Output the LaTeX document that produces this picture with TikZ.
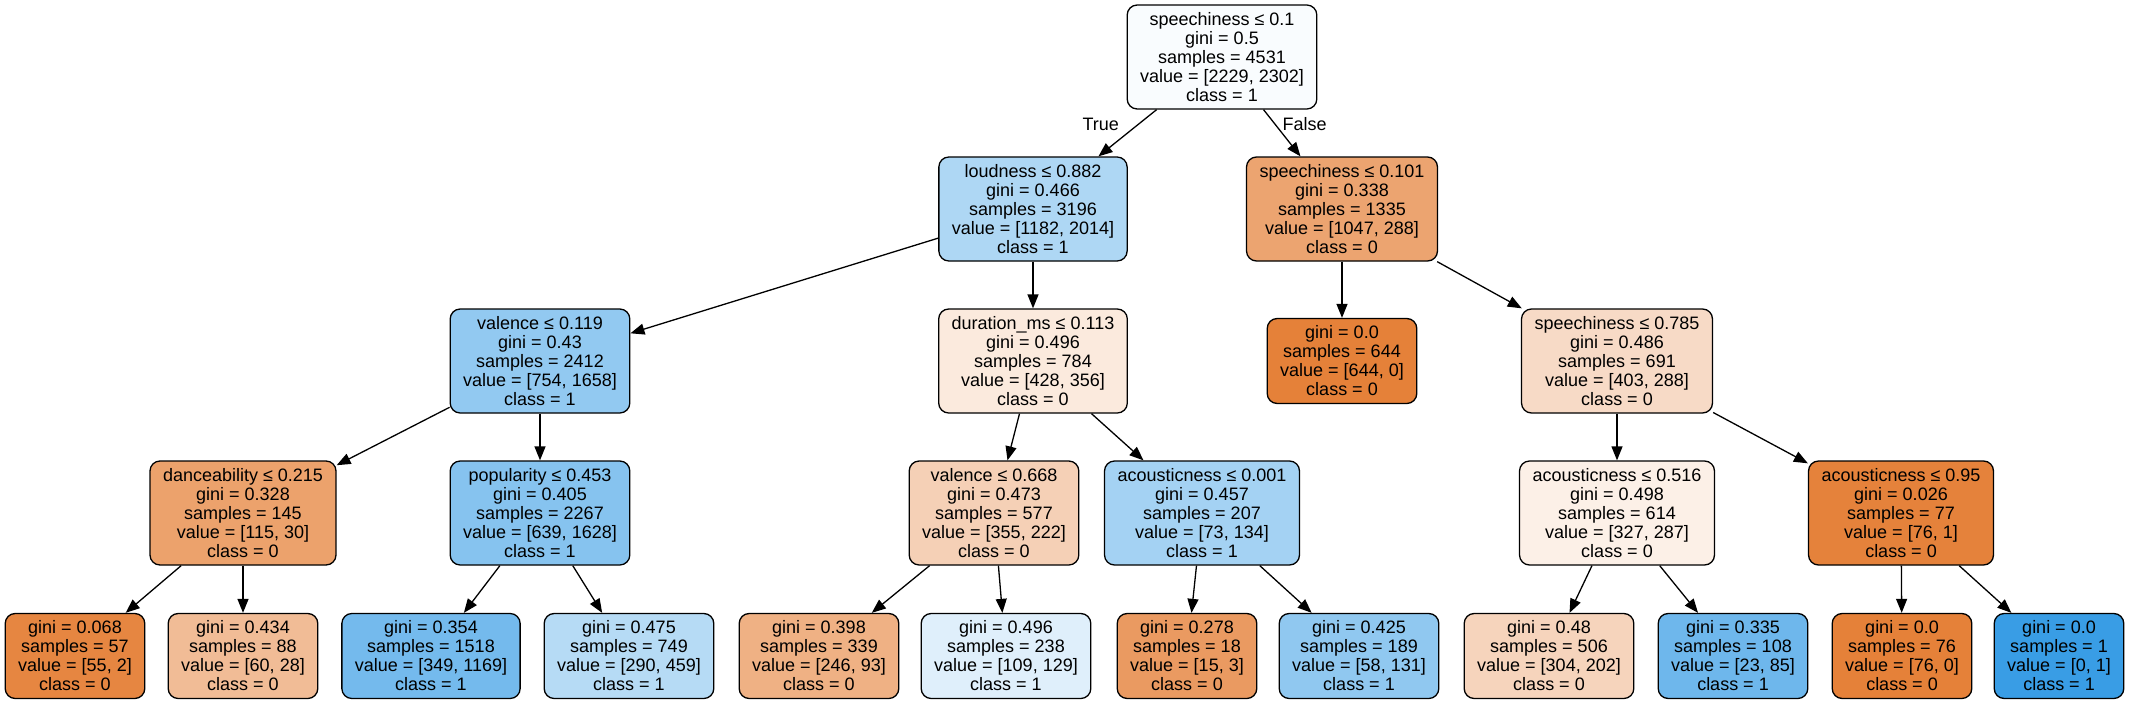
\documentclass[tikz,border=0pt]{standalone}
\usepackage{fontspec}
\setmainfont{Liberation Sans}
\usepackage{tikz}
\usetikzlibrary{positioning,arrows.meta}
\definecolor{colorzero}{RGB}{229,129, 57}
\definecolor{colorone} {RGB}{ 57,157,229}
\definecolor{colortext}{RGB}{  0,  0,  0}

\begin{document}
\begin{tikzpicture}[
    x=1pt, y=-1pt,
    font={\fontsize{18}{19}\selectfont},
    base/.style={draw=colortext,text=colortext,line width=1.3pt,rounded corners=10pt,inner xsep=13pt,inner ysep=4pt,align=center,rectangle},
    split/.style={base,minimum height=104pt},
    leaf/.style={base,minimum height=85pt},
    zero/.style={fill=colorzero!#1},
    one/.style={fill=colorone!#1},
    link/.style={line width=1.3pt,draw=colortext,-{Triangle[length=14pt,width=11pt]}},
    branch/.style={text=colortext,inner sep=0pt},
]
    \useasboundingbox (0,0) rectangle (2129,704);

    \node[split,one=3]   (root)     at (1222,57)  {speechiness ≤ 0.1\\gini = 0.5\\samples = 4531\\value = [2229, 2302]\\class = 1};

    \node[split,one=41]  (loudness) at (1033,209) {loudness ≤ 0.882\\gini = 0.466\\samples = 3196\\value = [1182, 2014]\\class = 1};
    \node[split,zero=72] (speech1)  at (1342,209) {speechiness ≤ 0.101\\gini = 0.338\\samples = 1335\\value = [1047, 288]\\class = 0};

    \node[split,one=55]  (valence1) at (540,361)  {valence ≤ 0.119\\gini = 0.43\\samples = 2412\\value = [754, 1658]\\class = 1};
    \node[split,zero=17] (duration) at (1033,361) {duration\_ms ≤ 0.113\\gini = 0.496\\samples = 784\\value = [428, 356]\\class = 0};
    \node[leaf,zero=100] (pure)     at (1342,361) {gini = 0.0\\samples = 644\\value = [644, 0]\\class = 0};
    \node[split,zero=29] (speech2)  at (1617,361) {speechiness ≤ 0.785\\gini = 0.486\\samples = 691\\value = [403, 288]\\class = 0};

    \node[split,zero=74] (dance)    at (243,513)  {danceability ≤ 0.215\\gini = 0.328\\samples = 145\\value = [115, 30]\\class = 0};
    \node[split,one=61]  (popular)  at (540,513)  {popularity ≤ 0.453\\gini = 0.405\\samples = 2267\\value = [639, 1628]\\class = 1};
    \node[split,zero=37] (valence2) at (994,513)  {valence ≤ 0.668\\gini = 0.473\\samples = 577\\value = [355, 222]\\class = 0};
    \node[split,one=46]  (acoust1)  at (1202,513) {acousticness ≤ 0.001\\gini = 0.457\\samples = 207\\value = [73, 134]\\class = 1};
    \node[split,zero=12] (acoust2)  at (1617,513) {acousticness ≤ 0.516\\gini = 0.498\\samples = 614\\value = [327, 287]\\class = 0};
    \node[split,zero=99] (acoust3)  at (1901,513) {acousticness ≤ 0.95\\gini = 0.026\\samples = 77\\value = [76, 1]\\class = 0};

    \node[leaf,zero=96]  (leaf1)  at (75,656)   {gini = 0.068\\samples = 57\\value = [55, 2]\\class = 0};
    \node[leaf,zero=53]  (leaf2)  at (243,656)  {gini = 0.434\\samples = 88\\value = [60, 28]\\class = 0};
    \node[leaf,one=70]   (leaf3)  at (431,656)  {gini = 0.354\\samples = 1518\\value = [349, 1169]\\class = 1};
    \node[leaf,one=37]   (leaf4)  at (629,656)  {gini = 0.475\\samples = 749\\value = [290, 459]\\class = 1};
    \node[leaf,zero=62]  (leaf5)  at (819,656)  {gini = 0.398\\samples = 339\\value = [246, 93]\\class = 0};
    \node[leaf,one=16]   (leaf6)  at (1006,656) {gini = 0.496\\samples = 238\\value = [109, 129]\\class = 1};
    \node[leaf,zero=80]  (leaf7)  at (1187,656) {gini = 0.278\\samples = 18\\value = [15, 3]\\class = 0};
    \node[leaf,one=56]   (leaf8)  at (1359,656) {gini = 0.425\\samples = 189\\value = [58, 131]\\class = 1};
    \node[leaf,zero=34]  (leaf9)  at (1549,656) {gini = 0.48\\samples = 506\\value = [304, 202]\\class = 0};
    \node[leaf,one=73]   (leaf10) at (1733,656) {gini = 0.335\\samples = 108\\value = [23, 85]\\class = 1};
    \node[leaf,zero=100] (leaf11) at (1902,656) {gini = 0.0\\samples = 76\\value = [76, 0]\\class = 0};
    \node[leaf,one=100]  (leaf12) at (2059,656) {gini = 0.0\\samples = 1\\value = [0, 1]\\class = 1};

    \draw[link] (root) -- (loudness) node[branch,pos=0.31,left=19pt] (yes) {True};
    \draw[link] (root) -- (speech1)  node[branch,pos=0.31,right=7pt] (no) {False};

    \draw[link] (loudness) -- (valence1);
    \draw[link] (loudness) -- (duration);
    \draw[link] (speech1)  -- (pure);
    \draw[link] (speech1)  -- (speech2);

    \draw[link] (valence1) -- (dance);
    \draw[link] (valence1) -- (popular);
    \draw[link] (duration) -- (valence2);
    \draw[link] (duration) -- (acoust1);
    \draw[link] (speech2)  -- (acoust2);
    \draw[link] (speech2)  -- (acoust3);

    \draw[link] (dance)    -- (leaf1);
    \draw[link] (dance)    -- (leaf2);
    \draw[link] (popular)  -- (leaf3);
    \draw[link] (popular)  -- (leaf4);
    \draw[link] (valence2) -- (leaf5);
    \draw[link] (valence2) -- (leaf6);
    \draw[link] (acoust1)  -- (leaf7);
    \draw[link] (acoust1)  -- (leaf8);
    \draw[link] (acoust2)  -- (leaf9);
    \draw[link] (acoust2)  -- (leaf10);
    \draw[link] (acoust3)  -- (leaf11);
    \draw[link] (acoust3)  -- (leaf12);

\end{tikzpicture}
\end{document}
